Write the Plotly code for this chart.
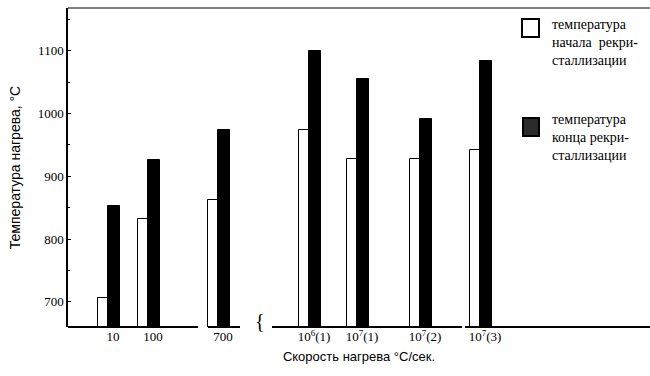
import plotly.graph_objects as go

# --- data ---
categories = ["10", "100", "700", "10<sup>6</sup>(1)", "10<sup>7</sup>(1)", "10<sup>7</sup>(2)", "10<sup>7</sup>(3)"]
t_start = [706, 832, 863, 974, 927, 928, 942]   # температура начала рекристаллизации
t_end = [852, 926, 974, 1099, 1055, 992, 1084]  # температура конца рекристаллизации
y_ticks = [700, 800, 900, 1000, 1100]
legend_labels = ["температура<br>начала  рекри-<br>сталлизации",
                 "температура<br>конца рекри-<br>сталлизации"]

# layout helpers (category positions along a broken axis)
group_pos = [40, 80, 150, 241, 289, 352, 412]

W, H = 650, 376
ML, MR, MT, MB = 68, 0, 8, 49
PW, PH = W - ML - MR, H - MT - MB


def px(x):
    return (x - ML) / PW


def py(y):
    return (H - MB - y) / PH


fig = go.Figure()
fig.add_trace(go.Bar(
    x=group_pos, y=t_start, width=10, offset=-10,
    marker=dict(color="white", line=dict(color="black", width=1)),
    name=legend_labels[0], showlegend=False,
))
fig.add_trace(go.Bar(
    x=group_pos, y=t_end, width=12, offset=0,
    marker=dict(color="black", line=dict(color="black", width=1)),
    name=legend_labels[1], showlegend=False,
))

shapes = []
# broken baseline
for x0, x1 in [(0, 130), (140, 172), (204, 394), (397, 582)]:
    shapes.append(dict(type="line", xref="x", yref="paper", x0=x0, x1=x1, y0=0, y1=0,
                       line=dict(color="black", width=2)))
# top frame line
shapes.append(dict(type="line", xref="paper", yref="paper", x0=0, x1=1, y0=1, y1=1,
                   line=dict(color="black", width=1)))
# legend boxes
shapes.append(dict(type="rect", xref="paper", yref="paper", x0=px(522), x1=px(539),
                   y0=py(37), y1=py(19), fillcolor="white", line=dict(color="black", width=2)))
shapes.append(dict(type="rect", xref="paper", yref="paper", x0=px(523), x1=px(539),
                   y0=py(136), y1=py(118), fillcolor="#2a2a2a", line=dict(color="black", width=2)))

fig.update_layout(
    width=W, height=H,
    margin=dict(l=ML, r=MR, t=MT, b=MB),
    paper_bgcolor="white", plot_bgcolor="white",
    barmode="overlay",
    bargap=0,
    shapes=shapes,
    showlegend=False,
    xaxis=dict(range=[0, 582], showgrid=False, zeroline=False, showline=False, automargin=False,
               tickvals=[p + 5 for p in group_pos], ticktext=categories,
               ticks="", tickfont=dict(family="Liberation Serif", size=13, color="black"),
               title=dict(text="Скорость нагрева °С/сек.", standoff=8,
                          font=dict(family="Liberation Sans", size=13, color="black"))),
    yaxis=dict(range=[660, 1168], showgrid=False, zeroline=False, showline=True,
               linecolor="black", linewidth=1.5, automargin=False,
               tickvals=y_ticks, ticks="inside", ticklen=3,
               tickcolor="black",
               minor=dict(dtick=50, ticks="inside", ticklen=2, tickcolor="black"),
               tickfont=dict(family="Liberation Serif", size=13, color="black"),
               title=dict(text="Температура нагрева, °С", standoff=14,
                          font=dict(family="Liberation Sans", size=14, color="black"))),
)
fig.add_annotation(x=192, y=0, xref="x", yref="paper", text="{", showarrow=False,
                   yanchor="middle", yshift=6,
                   font=dict(family="Liberation Serif", size=20, color="black"))
for label, top in zip(legend_labels, [15, 110]):
    fig.add_annotation(x=px(550), y=py(top), xref="paper", yref="paper", text=label,
                       showarrow=False, xanchor="left", yanchor="top", align="left",
                       font=dict(family="Liberation Serif", size=14, color="black"))

fig.write_html("out.html", config={"displayModeBar": False},
               post_script="document.body.style.margin='0px';")
